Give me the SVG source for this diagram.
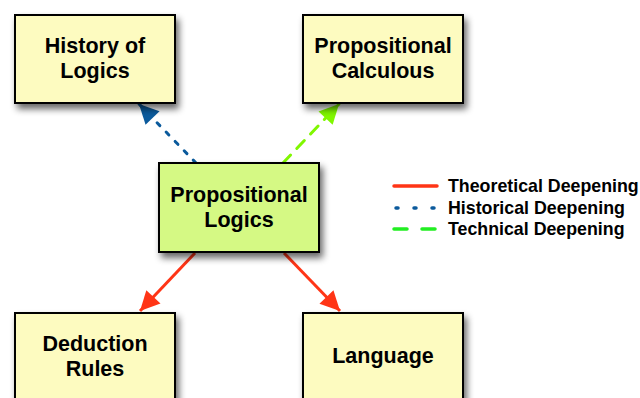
<svg xmlns="http://www.w3.org/2000/svg" width="640" height="398" viewBox="0 0 640 398">
<style>
.box{stroke:#000;stroke-width:2;filter:url(#sh)}
.y{fill:#FDFBC0}
.g{fill:#D5F984}
.t{font-family:"Liberation Sans",Arial,sans-serif;font-weight:bold;font-size:21.5px;fill:#000;text-anchor:middle}
.lg{font-family:"Liberation Sans",Arial,sans-serif;font-weight:bold;font-size:17.8px;fill:#000}
.c{fill:none;stroke-width:3}
</style>
<defs>
<filter id="sh" x="-20%" y="-20%" width="150%" height="150%">
<feGaussianBlur in="SourceAlpha" stdDeviation="3.5"/>
<feOffset dx="3" dy="5" result="o"/>
<feComponentTransfer><feFuncA type="linear" slope="0.6"/></feComponentTransfer>
<feMerge><feMergeNode/><feMergeNode in="SourceGraphic"/></feMerge>
</filter>
<marker id="ab" viewBox="0 0 10 10" refX="10" refY="5" markerWidth="7" markerHeight="6.5" orient="auto" markerUnits="strokeWidth"><path d="M0,0L10,5L0,10z" fill="#0B5A9C"/></marker>
<marker id="ag" viewBox="0 0 10 10" refX="10" refY="5" markerWidth="7" markerHeight="6.5" orient="auto" markerUnits="strokeWidth"><path d="M0,0L10,5L0,10z" fill="#80F700"/></marker>
<marker id="ar" viewBox="0 0 10 10" refX="10" refY="5" markerWidth="7" markerHeight="6.5" orient="auto" markerUnits="strokeWidth"><path d="M0,0L10,5L0,10z" fill="#FF3516"/></marker>
</defs>
<g id="connectors">
<path class="c" d="M196,163L139,104" stroke="#0B5A9C" stroke-dasharray="4,9" stroke-linecap="round" marker-end="url(#ab)"/>
<path class="c" d="M283,163L339,104" stroke="#80F700" stroke-dasharray="11,9" stroke-linecap="round" marker-end="url(#ag)"/>
<path class="c" d="M195,253L140,311" stroke="#FF3516" marker-end="url(#ar)"/>
<path class="c" d="M284,253L340,311" stroke="#FF3516" marker-end="url(#ar)"/>
</g>
<g id="history"><rect class="box y" x="15" y="15" width="160" height="88"/><text class="t" x="95" y="53">History of</text><text class="t" x="95" y="78">Logics</text></g>
<g id="calculous"><rect class="box y" x="303" y="15" width="160" height="88"/><text class="t" x="383" y="53">Propositional</text><text class="t" x="383" y="78">Calculous</text></g>
<g id="logics"><rect class="box g" x="159" y="163" width="160" height="89"/><text class="t" x="239" y="202">Propositional</text><text class="t" x="239" y="227">Logics</text></g>
<g id="deduction"><rect class="box y" x="15" y="313" width="160" height="95"/><text class="t" x="95" y="351">Deduction</text><text class="t" x="95" y="376">Rules</text></g>
<g id="language"><rect class="box y" x="303" y="313" width="160" height="95"/><text class="t" x="383" y="363">Language</text></g>
<g id="legend">
<line x1="394" y1="186" x2="437" y2="186" stroke="#FF3516" stroke-width="3.5" stroke-linecap="round"/>
<line x1="396" y1="208" x2="437" y2="208" stroke="#0B5A9C" stroke-width="3.5" stroke-linecap="round" stroke-dasharray="2,16"/>
<line x1="394" y1="229" x2="437" y2="229" stroke="#22EE22" stroke-width="3.5" stroke-linecap="round" stroke-dasharray="13,15"/>
<text class="lg" x="448" y="192">Theoretical Deepening</text>
<text class="lg" x="448" y="214">Historical Deepening</text>
<text class="lg" x="448" y="235">Technical Deepening</text>
</g>
</svg>
